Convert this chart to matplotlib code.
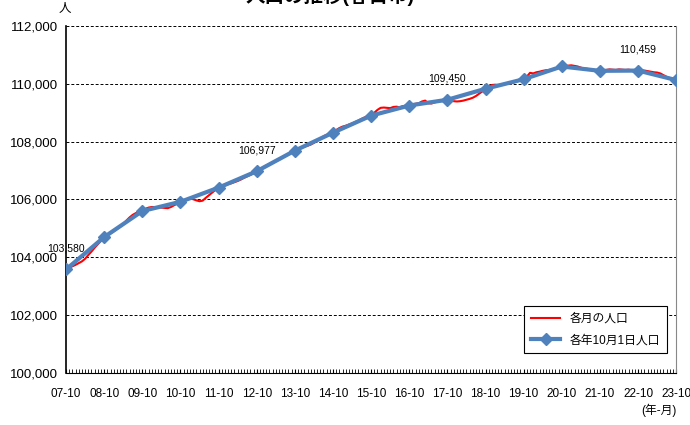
import numpy as np
import matplotlib.pyplot as plt

plt.rcParams['font.family'] = ['Liberation Sans', 'Noto Sans CJK JP', 'DejaVu Sans']

# yearly labels (Oct of each year)
years = ['07-10', '08-10', '09-10', '10-10', '11-10', '12-10', '13-10', '14-10',
         '15-10', '16-10', '17-10', '18-10', '19-10', '20-10', '21-10', '22-10', '23-10']

# population on Oct 1 each year
oct_pop = [103580, 104700, 105600, 105920, 106410, 106977, 107690, 108310,
           108900, 109250, 109450, 109830, 110160, 110600, 110450, 110459, 110130]

# monthly population, Oct..Sep of each year
monthly_rows = [
    [103580, 103640, 103690, 103740, 103800, 103860, 103950, 104080, 104200, 104330, 104450, 104580],
    [104700, 104770, 104830, 104900, 104980, 105060, 105150, 105270, 105380, 105470, 105530, 105580],
    [105600, 105680, 105720, 105740, 105740, 105730, 105720, 105710, 105700, 105740, 105800, 105860],
    [105920, 105960, 106000, 106030, 106010, 105970, 105940, 105960, 106060, 106150, 106240, 106330],
    [106410, 106450, 106490, 106530, 106560, 106600, 106640, 106690, 106750, 106800, 106850, 106910],
    [106977, 107040, 107110, 107170, 107230, 107280, 107330, 107380, 107440, 107510, 107580, 107640],
    [107690, 107740, 107790, 107830, 107860, 107900, 107960, 108030, 108110, 108180, 108240, 108280],
    [108310, 108400, 108470, 108520, 108550, 108590, 108630, 108680, 108730, 108790, 108840, 108880],
    [108900, 109000, 109100, 109170, 109180, 109170, 109160, 109200, 109210, 109190, 109230, 109240],
    [109250, 109290, 109310, 109330, 109390, 109420, 109330, 109320, 109360, 109390, 109410, 109430],
    [109450, 109420, 109400, 109390, 109400, 109420, 109450, 109480, 109520, 109580, 109660, 109740],
    [109830, 109900, 109960, 109970, 109960, 109980, 110000, 110010, 110020, 110050, 110100, 110130],
    [110160, 110250, 110380, 110360, 110400, 110420, 110450, 110470, 110480, 110500, 110530, 110570],
    [110600, 110620, 110630, 110640, 110620, 110600, 110560, 110530, 110520, 110500, 110480, 110470],
    [110450, 110470, 110480, 110500, 110490, 110480, 110500, 110490, 110480, 110490, 110470, 110460],
    [110459, 110470, 110460, 110440, 110420, 110400, 110390, 110360, 110300, 110240, 110200, 110170],
]
last_month = 110130

# which yearly points get a value label
label_idx = [0, 5, 10, 15]

monthly = [v for row in monthly_rows for v in row] + [last_month]
xm = np.arange(len(monthly))
xy = np.arange(len(oct_pop)) * 12

fig = plt.figure(figsize=(6.9, 4.25), dpi=100)
ax = fig.add_axes([0.0957, 0.1224, 0.8843, 0.8164])

ax.plot(xm, monthly, color='red', lw=1.5, label='各月の人口', zorder=2)
ax.plot(xy, oct_pop, color='#4F81BD', lw=3, marker='D', ms=6.5,
        label='各年10月1日人口', zorder=3)

for i in label_idx:
    ax.annotate(f'{oct_pop[i]:,}', (xy[i], oct_pop[i]), xytext=(0, 13),
                textcoords='offset points', ha='center', fontsize=7.5)

ax.set_xlim(0, xy[-1])
ax.set_ylim(100000, 112000)
ax.set_yticks(np.arange(100000, 112001, 2000))
ax.set_yticklabels([f'{v:,}' for v in range(100000, 112001, 2000)], fontsize=9.5)
ax.set_xticks(xy)
ax.set_xticklabels(years, fontsize=8.5)
ax.set_xticks(xm, minor=True)
ax.tick_params(axis='x', which='both', direction='in', length=3, pad=11)
ax.tick_params(axis='y', length=0, pad=6)

ax.grid(axis='y', linestyle=(0, (3, 2)), color='black', lw=0.7)
ax.spines['top'].set_visible(False)
ax.spines['right'].set_color('#888888')
ax.spines['left'].set_linewidth(1.2)

leg = ax.legend(loc='lower right', bbox_to_anchor=(0.995, 0.04), fontsize=8.5,
                fancybox=False, edgecolor='black', framealpha=1,
                handlelength=2.5, borderpad=0.6, labelspacing=0.8)
leg.get_frame().set_linewidth(0.8)

fig.text(0.094, 0.972, '人', fontsize=9, ha='center')
fig.text(0.955, 0.025, '(年-月)', fontsize=8.5, ha='center')
fig.text(0.478, 0.985, '人口の推移(春日市)', fontsize=14, fontweight='bold',
         ha='center', va='bottom')

fig.savefig('out.png', dpi=100)
